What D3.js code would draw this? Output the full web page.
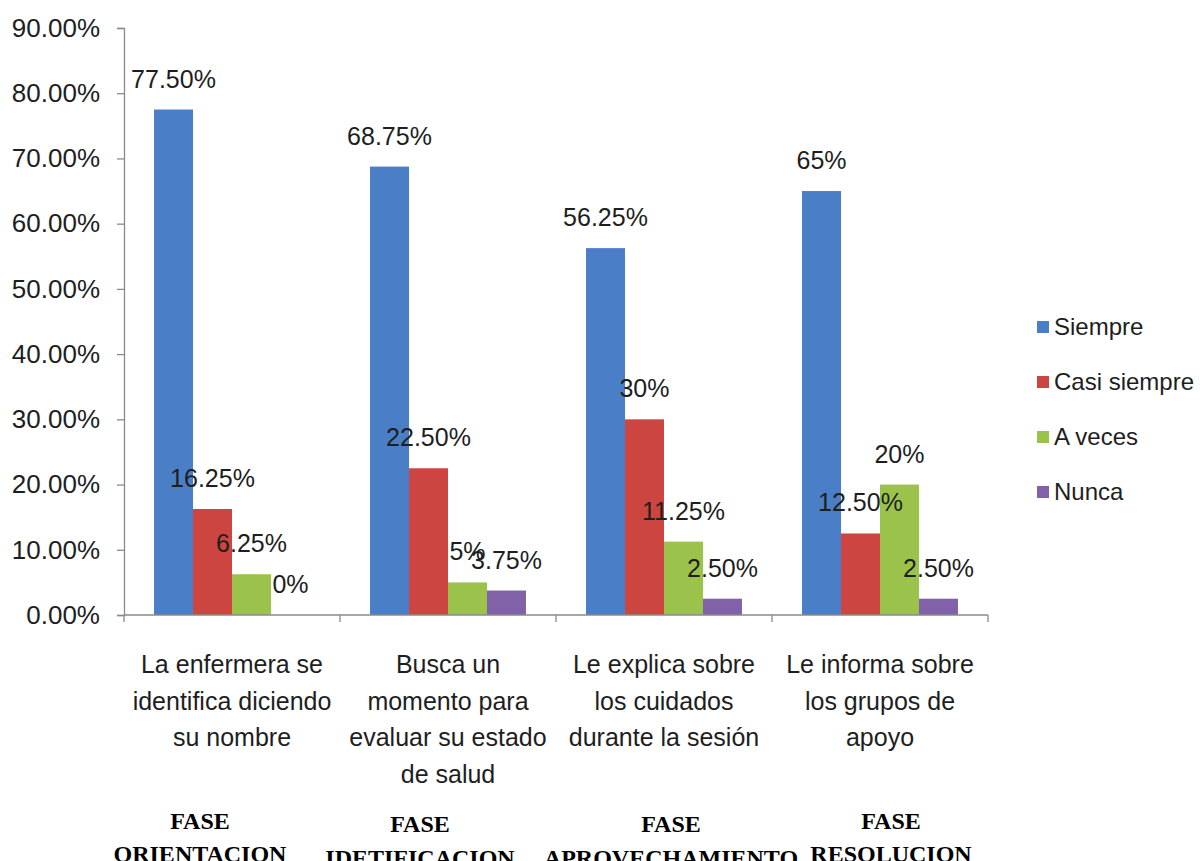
<!DOCTYPE html>
<html><head><meta charset="utf-8">
<script src="https://cdn.jsdelivr.net/npm/d3@7"></script>
<style>body{margin:0;background:#fff}svg{display:block}</style>
</head><body>
<script>
const categories = [
  ["La enfermera  se","identifica diciendo","su nombre"],
  ["Busca un","momento para","evaluar  su estado","de salud"],
  ["Le explica sobre","los cuidados","durante la sesión"],
  ["Le informa sobre","los grupos de","apoyo"]
];
const phases = [["FASE","ORIENTACION"],["FASE","IDETIFICACION"],["FASE","APROVECHAMIENTO"],["FASE","RESOLUCION"]];
const seriesNames = ["Siempre","Casi siempre","A veces","Nunca"];
const siempre = [77.5, 68.75, 56.25, 65];
const casiSiempre = [16.25, 22.5, 30, 12.5];
const aVeces = [6.25, 5, 11.25, 20];
const nunca = [0, 3.75, 2.5, 2.5];
const labels = [
  ["77.50%","68.75%","56.25%","65%"],
  ["16.25%","22.50%","30%","12.50%"],
  ["6.25%","5%","11.25%","20%"],
  ["0%","3.75%","2.50%","2.50%"]
];
const yTicks = [0,10,20,30,40,50,60,70,80,90];
const colors = ["#4a7ec6","#cc4541","#9bc34c","#8162a8"];

const series = [siempre, casiSiempre, aVeces, nunca];
const W = 1203, H = 861;
const svg = d3.select("body").append("svg").attr("width",W).attr("height",H);
const F = "'Liberation Sans', Arial, sans-serif";
const TXT = "#1e1e1e";

const idx = d3.range(categories.length);
const x0 = d3.scaleBand().domain(idx).range([124, 988]).padding(0);
const x1 = d3.scaleBand().domain(d3.range(seriesNames.length)).range([0, x0.bandwidth()]).paddingInner(0).paddingOuter(0.77);
const y = d3.scaleLinear().domain([0, 90]).range([615, 28]);

// y axis
const yAxis = svg.append("g").attr("transform","translate(124,0)")
  .call(d3.axisLeft(y).tickValues(yTicks).tickFormat(d => d.toFixed(2) + "%").tickSize(7).tickPadding(17));
yAxis.select(".domain").attr("stroke","#8a8a8a").attr("stroke-width",1.3);
yAxis.selectAll(".tick line").attr("stroke","#8a8a8a").attr("stroke-width",1.3);
yAxis.selectAll(".tick text").attr("font-family",F).attr("font-size",26).attr("fill",TXT);

// bars
series.forEach((vals, s) => {
  svg.append("g").selectAll("rect").data(idx).join("rect")
    .attr("x", i => x0(i) + x1(s))
    .attr("y", i => y(vals[i]))
    .attr("width", x1.bandwidth())
    .attr("height", i => y(0) - y(vals[i]))
    .attr("fill", colors[s]);
});

// x axis
const xAxisG = svg.append("g").attr("transform","translate(0,615)");
xAxisG.append("line").attr("x1",124).attr("x2",988).attr("y1",0).attr("y2",0).attr("stroke","#8a8a8a").attr("stroke-width",1.3);
const bounds = idx.map(i => x0(i)).concat([x0(idx[idx.length-1]) + x0.bandwidth()]);
xAxisG.selectAll("line.t").data(bounds).join("line").attr("class","t")
  .attr("x1", d => d).attr("x2", d => d).attr("y1",0).attr("y2",7).attr("stroke","#8a8a8a").attr("stroke-width",1.3);

// data labels
series.forEach((vals, s) => {
  svg.append("g").selectAll("text").data(idx).join("text")
    .attr("x", i => x0(i) + x1(s) + x1.bandwidth()/2)
    .attr("y", i => y(vals[i]) - 22)
    .attr("text-anchor","middle")
    .attr("font-family",F).attr("font-size",25).attr("fill",TXT)
    .text(i => labels[s][i]);
});

// category labels
idx.forEach(i => {
  const t = svg.append("text").attr("text-anchor","middle").attr("font-family",F).attr("font-size",25).attr("fill",TXT);
  categories[i].forEach((ln, k) => {
    t.append("tspan").attr("x", x0(i) + x0.bandwidth()/2).attr("y", 673 + k*36.5).text(ln);
  });
});

// phase labels
const phaseX = [200, 420, 671, 891];
const phaseY = [[829, 862],[832, 866],[832, 866],[829, 862]];
idx.forEach(i => {
  phases[i].forEach((ln, k) => {
    svg.append("text").attr("x", phaseX[i]).attr("y", phaseY[i][k]).attr("text-anchor","middle")
      .attr("font-family","'Liberation Serif','Times New Roman',serif").attr("font-weight","bold")
      .attr("font-size",24).attr("fill","#000").text(ln);
  });
});

// legend
const lg = svg.append("g");
seriesNames.forEach((n, s) => {
  const cy = 327 + s*55;
  lg.append("rect").attr("x",1037).attr("y",cy-6).attr("width",12).attr("height",12).attr("fill",colors[s]);
  lg.append("text").attr("x",1054).attr("y",cy+8).attr("font-family",F).attr("font-size",24).attr("fill",TXT).text(n);
});
</script>
</body></html>
